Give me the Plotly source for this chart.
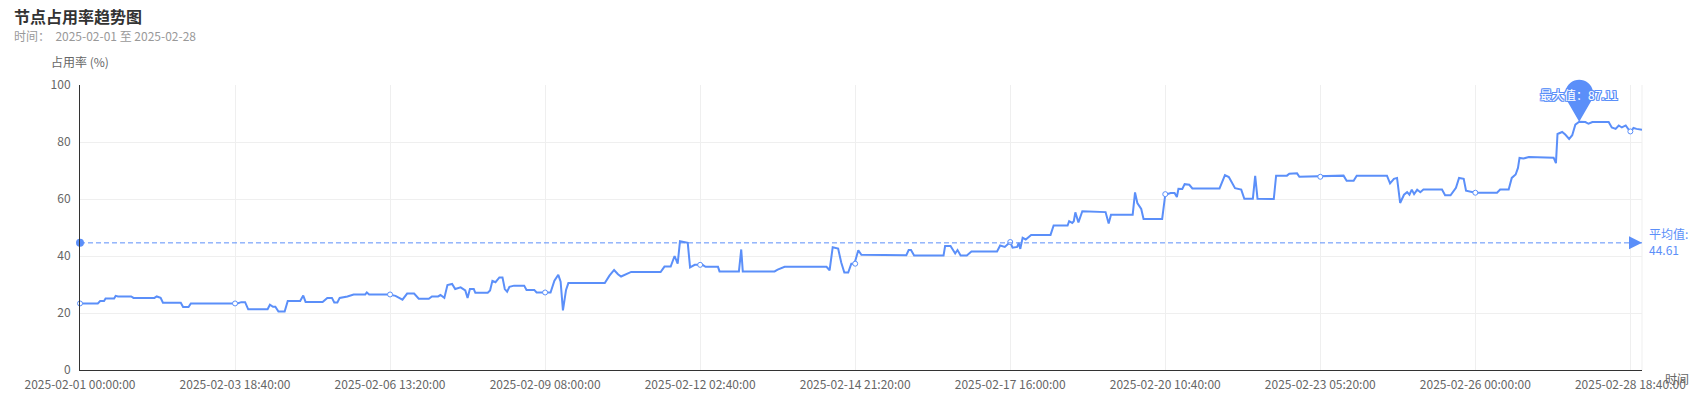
import math
import pandas as pd
import plotly.graph_objects as go

# ---------------- data ----------------
START = "2025-02-01 00:00:00"
END = "2025-02-28 23:40:00"

# hours since START, and occupancy (%) at those moments
hours = [
    0, 7.7, 8.6, 10.3, 11.0, 14.6, 15.2, 16.3, 22.0, 22.9, 32.0, 32.9, 34.6, 35.8, 43.5, 44.3, 46.6, 47.8,
    67.8, 69.2, 71.0, 72.4, 80.7, 81.8, 83.0, 84.1, 85.3, 88.1, 89.3, 94.7, 95.9, 97.0, 104.3, 106.4,
    108.2, 109.3, 110.7, 111.7, 115.0, 117.6, 122.5, 123.2, 124.2, 133.0, 135.8, 137.6, 138.6, 140.8,
    143.6, 145.8, 150.1, 151.5, 153.9, 155.1, 156.5, 157.9, 160.1, 161.5, 163.7, 165.8, 166.6, 167.6,
    169.4, 170.1, 175.2, 176.2, 177.3, 178.8, 180.2, 181.6, 182.5, 183.8, 184.5, 186.6, 191.0, 192.0,
    195.3, 196.3, 202.4, 203.9, 205.6, 206.5, 207.6, 208.9, 210.0, 225.8, 227.6, 229.7, 231.2, 232.6,
    234.7, 236.9, 249.8, 251.3, 254.1, 255.6, 257.0, 258.1, 261.3, 262.4, 264.2, 267.8, 268.9, 274.2,
    274.9, 283.5, 284.3, 285.1, 298.6, 300.1, 302.9, 320.9, 322.3, 323.7, 325.9, 327.3, 328.8, 330.2,
    331.6, 333.1, 334.5, 335.9, 355.4, 356.2, 357.5, 358.7, 371.2, 372.1, 374.4, 375.5, 376.4, 377.5,
    378.8, 381.3, 383.4, 394.2, 395.7, 397.8, 400.0, 400.9, 402.9, 403.6, 404.3, 405.2, 406.8, 408.9,
    417.3, 418.7, 424.5, 425.5, 426.5, 427.4, 428.1, 429.2, 431.0, 441.0, 442.2, 443.2, 452.6, 453.7,
    454.8, 456.2, 457.2, 465.3, 466.6, 469.1, 470.6, 471.6, 472.4, 473.9, 474.9, 477.0, 478.2, 490.0,
    492.2, 494.0, 495.0, 496.5, 499.4, 500.8, 504.4, 505.4, 506.4, 513.5, 514.4, 519.0, 519.9, 523.3,
    524.4, 538.4, 543.4, 544.5, 547.7, 549.1, 562.0, 563.4, 564.9, 566.3, 567.7, 569.2, 570.6, 571.8,
    572.8, 573.8, 574.9, 576.3, 577.8, 585.7, 587.1, 589.2, 590.7, 591.8, 593.0, 595.0, 596.1, 598.6,
    600.0, 609.3, 610.5, 614.3, 615.8, 617.2, 618.2, 619.1, 620.8, 623.0, 633.7, 634.5, 635.5, 637.3,
    638.7, 640.2, 641.6, 643.0, 644.7, 647.3, 648.7, 650.2, 657.3, 658.8, 660.2, 661.6, 663.1, 664.5,
    665.9, 666.9, 668.1, 669.5, 671.67,
]
usage = [
    23.35, 23.35, 24.2, 24.2, 25.1, 25.1, 26.0, 25.8, 25.8, 25.3, 25.3, 25.8, 25.3, 23.6, 23.6, 22.1, 22.1, 23.35,
    23.35, 23.8, 23.8, 21.3, 21.3, 22.9, 22.2, 22.2, 20.5, 20.5, 24.2, 24.2, 26.1, 23.9, 23.9, 25.3,
    25.3, 23.7, 23.7, 25.3, 25.8, 26.5, 26.5, 27.2, 26.5, 26.5, 26.0, 25.3, 24.7, 26.8,
    26.8, 25.0, 25.0, 25.8, 25.8, 26.3, 25.3, 29.8, 30.2, 28.4, 29.0, 27.9, 25.3, 28.4,
    28.4, 27.1, 27.1, 27.9, 31.3, 30.8, 32.5, 32.5, 28.4, 27.5, 29.2, 29.6, 29.6, 28.1,
    28.1, 27.2, 27.2, 31.3, 33.4, 31.0, 20.9, 28.1, 30.5, 30.5, 33.1, 35.1, 33.6, 32.8,
    33.6, 34.4, 34.4, 36.3, 36.3, 40.0, 37.3, 45.2, 44.6, 36.0, 36.9, 36.9, 36.2, 36.2,
    34.6, 34.6, 42.3, 34.6, 34.6, 35.2, 36.2, 36.2, 35.0, 43.1, 42.6, 37.7, 34.2, 34.2,
    37.3, 37.3, 42.0, 40.4, 40.3, 42.1, 42.1, 40.2, 40.2, 43.5, 43.5, 42.3, 40.9, 42.1,
    40.2, 40.2, 41.6, 41.6, 43.7, 43.2, 44.9, 42.9, 43.2, 44.6, 42.5, 46.4, 45.8, 47.4,
    47.4, 50.7, 50.7, 52.2, 51.6, 52.2, 55.3, 51.8, 55.7, 55.4, 51.4, 54.5, 54.5, 62.3,
    58.6, 56.5, 53.0, 53.0, 61.5, 62.1, 62.1, 60.7, 63.6, 63.5, 65.2, 65.0, 63.7, 63.7,
    68.4, 67.7, 66.2, 63.8, 63.3, 60.1, 60.1, 68.1, 60.1, 60.0, 68.2, 68.2, 68.9, 69.0,
    67.8, 68.2, 68.2, 66.4, 66.4, 68.2, 68.2, 65.5, 67.1, 67.4, 58.6, 61.5, 62.4, 61.5,
    63.3, 61.7, 63.3, 62.4, 63.3, 63.3, 61.3, 61.3, 62.9, 63.9, 67.4, 67.1, 62.9, 62.4,
    62.2, 62.2, 63.3, 63.3, 67.4, 68.6, 70.9, 74.4, 74.2, 74.7, 74.5, 72.6, 82.8, 83.5,
    82.6, 81.1, 82.4, 86.1, 87.11, 87.0, 86.4, 87.0, 87.0, 85.1, 84.6, 85.8, 85.1, 85.8,
    84.3, 83.7, 84.9, 84.6, 84.3,
]

tick_labels = [
    "2025-02-01 00:00:00", "2025-02-03 18:40:00", "2025-02-06 13:20:00", "2025-02-09 08:00:00",
    "2025-02-12 02:40:00", "2025-02-14 21:20:00", "2025-02-17 16:00:00", "2025-02-20 10:40:00",
    "2025-02-23 05:20:00", "2025-02-26 00:00:00", "2025-02-28 18:40:00",
]
tick_point_values = [23.35, 23.35, 26.5, 27.2, 36.9, 37.3, 44.9, 61.7, 67.8, 62.2, 83.7]

avg_value = 44.61
y_ticks = [0, 20, 40, 60, 80, 100]

title_text = "节点占用率趋势图"
subtitle_text = "时间：  2025-02-01 至 2025-02-28"
y_name = "占用率 (%)"
x_name = "时间"
avg_label = "平均值:<br>44.61"
max_label_prefix = "最大值："

# ---------------- styling ----------------
OFF = 8                      # default page body margin
W, H = 1703 - OFF, 416 - OFF
# plot area in page pixels: x 80..1642, y 85..370
ML, MT = 80 - OFF, 85 - OFF
MR, MB = W - (1642 - OFF), H - (370 - OFF)
PW, PH = W - ML - MR, H - MT - MB
BLUE = "#5B8FF9"
GRID = "#EFEFEF"
AXIS = "#333333"
LABEL = "#666666"
FONT = "Noto Sans CJK SC"


def pxx(x):
    """page pixel x -> paper"""
    return (x - OFF - ML) / PW


def pxy(y):
    """page pixel y -> paper"""
    return (H - MB - (y - OFF)) / PH


start = pd.Timestamp(START)
end = pd.Timestamp(END)
times = (start + pd.to_timedelta(hours, unit="h")).round("20min")
tick_times = pd.to_datetime(tick_labels)

imax = max(range(len(usage)), key=lambda i: usage[i])
max_time = times[imax]
max_value = usage[imax]

fig = go.Figure()

fig.add_trace(go.Scatter(
    x=times, y=usage, mode="lines",
    line=dict(color=BLUE, width=2),
    hoverinfo="skip", showlegend=False,
))

# hollow symbols shown at the labelled positions
fig.add_trace(go.Scatter(
    x=tick_times, y=tick_point_values, mode="markers",
    marker=dict(size=5, color="white", line=dict(color=BLUE, width=1)),
    hoverinfo="skip", showlegend=False, cliponaxis=False,
))

# average mark line
fig.add_shape(type="line", xref="paper", yref="y", x0=0, x1=1, y0=avg_value, y1=avg_value,
              line=dict(color=BLUE, width=1, dash="5px,3px"), layer="above")
fig.add_trace(go.Scatter(
    x=[start], y=[avg_value], mode="markers",
    marker=dict(size=8, color=BLUE), hoverinfo="skip", showlegend=False, cliponaxis=False,
))
fig.add_trace(go.Scatter(
    x=[end], y=[avg_value], mode="markers",
    marker=dict(size=13, color=BLUE, symbol="arrow-right"),
    hoverinfo="skip", showlegend=False, cliponaxis=False,
))

# right boundary grid line
fig.add_shape(type="line", xref="paper", yref="paper", x0=1, x1=1, y0=0, y1=1,
              line=dict(color=GRID, width=1), layer="below")

# max pin (teardrop)
r, d = 14.0, 28.0
t = math.sqrt(d * d - r * r)
ang = math.asin(r / d)
tx, ty = t * math.sin(ang), t * math.cos(ang)
a0 = math.atan2(ty - d, tx)
a_end = math.pi - a0
nseg = 3
step = (a_end - a0) / nseg
k = 4 / 3 * math.tan(step / 4) * r
path = f"M 0 0 L {tx:.2f} {ty:.2f}"
for s in range(nseg):
    b0 = a0 + s * step
    b1 = b0 + step
    p0 = (r * math.cos(b0), d + r * math.sin(b0))
    p3 = (r * math.cos(b1), d + r * math.sin(b1))
    c1 = (p0[0] - k * math.sin(b0), p0[1] + k * math.cos(b0))
    c2 = (p3[0] + k * math.sin(b1), p3[1] - k * math.cos(b1))
    path += f" C {c1[0]:.2f} {c1[1]:.2f} {c2[0]:.2f} {c2[1]:.2f} {p3[0]:.2f} {p3[1]:.2f}"
path += " Z"
fig.add_shape(type="path", xref="x", yref="paper", xsizemode="pixel", ysizemode="pixel",
              xanchor=max_time, yanchor=max_value / y_ticks[-1], path=path,
              fillcolor=BLUE, line=dict(width=0), layer="above")

outline = ", ".join(f"{dx}px {dy}px 0 {BLUE}" for dx, dy in
                    [(-1, 0), (1, 0), (0, -1), (0, 1), (-1, -1), (1, 1), (-1, 1), (1, -1)])
annotations = [
    dict(text=f"<b>{title_text}</b>", xref="paper", yref="paper", x=pxx(13), y=pxy(16),
         xanchor="left", yanchor="middle", borderpad=0, showarrow=False,
         font=dict(size=16, color="#333333")),
    dict(text=subtitle_text, xref="paper", yref="paper", x=pxx(13), y=pxy(35.5),
         xanchor="left", yanchor="middle", borderpad=0, showarrow=False,
         font=dict(size=12, color="#999999")),
    dict(text=y_name, xref="paper", yref="paper", x=0, y=pxy(62),
         xanchor="center", yanchor="middle", showarrow=False, font=dict(size=12, color=LABEL)),
    dict(text=x_name, xref="paper", yref="paper", x=pxx(1663), y=pxy(378),
         xanchor="left", yanchor="middle", showarrow=False, font=dict(size=12, color=LABEL)),
    dict(text=avg_label, xref="paper", yref="y", x=pxx(1647), y=avg_value, yshift=1,
         xanchor="left", yanchor="middle", align="left", showarrow=False,
         font=dict(size=12, color=BLUE)),
    dict(text=f"{max_label_prefix}{max_value:.2f}", xref="x", yref="y", x=max_time, y=max_value,
         yshift=27, xanchor="center", yanchor="middle", showarrow=False,
         font=dict(size=12, color="white", shadow=outline)),
]

fig.update_layout(
    width=W, height=H,
    margin=dict(l=ML, r=MR, t=MT, b=MB, pad=0),
    paper_bgcolor="white", plot_bgcolor="white",
    font=dict(family=FONT, size=12, color=LABEL),
    showlegend=False,
    annotations=annotations,
    xaxis=dict(
        type="date", range=[start, end],
        tickmode="array", tickvals=tick_times, ticktext=tick_labels,
        showgrid=True, gridcolor=GRID, gridwidth=1,
        showline=True, linecolor=AXIS, linewidth=1,
        ticks="", ticklabelstandoff=4, zeroline=False,
        tickfont=dict(size=12, color=LABEL),
    ),
    yaxis=dict(
        range=[y_ticks[0], y_ticks[-1]], tickmode="array", tickvals=y_ticks,
        showgrid=True, gridcolor=GRID, gridwidth=1,
        showline=True, linecolor=AXIS, linewidth=1,
        ticks="", ticklabelstandoff=6, zeroline=False,
        tickfont=dict(size=12, color=LABEL),
    ),
)

fig.write_html("out.html")
